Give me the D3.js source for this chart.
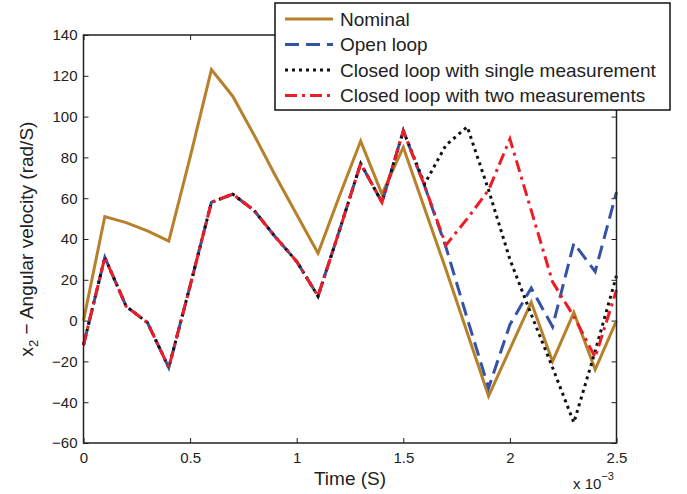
<!DOCTYPE html>
<html>
<head>
<meta charset="utf-8">
<script src="https://cdn.jsdelivr.net/npm/d3@7"></script>
<style>
  body { margin: 0; background: #fff; }
  svg { font-family: "Liberation Sans", Arial, sans-serif; }
</style>
</head>
<body>
<svg id="chart" width="687" height="494"></svg>
<script>
// time in units of 1e-3 s
const time = [0, 0.1, 0.2, 0.3, 0.4, 0.5, 0.6, 0.7, 0.8, 0.9, 1.0, 1.1, 1.2,
              1.3, 1.4, 1.5, 1.6, 1.7, 1.8, 1.9, 2.0, 2.1, 2.2, 2.3, 2.4, 2.5];

const nominal    = [0, 51, 48, 44, 39, 80, 123, 110, 91, 71, 52, 33, 61,
                    88, 62, 85, 55, 25, -6, -37, -14, 9, -20, 4, -24, 0];
const openLoop   = [-12, 31, 7, -1, -23, 17, 58, 62, 54, 41, 29, 12, 44,
                    77, 58, 93, 66, 36, 1, -33, -2, 16, -3, 38, 24, 63];
const closedOne  = [-12, 31, 7, -1, -23, 17, 58, 62, 54, 41, 29, 12, 44,
                    77, 58, 93, 67, 86, 95, 64, 30, 3, -23, -50, -15, 22];
const closedTwo  = [-12, 31, 7, -1, -23, 17, 58, 62, 54, 41, 29, 12, 44,
                    77, 58, 93, 66, 37, 50, 64, 89, 54, 19, 2, -18, 15];

const seriesNames = ["Nominal", "Open loop", "Closed loop with single measurement", "Closed loop with two measurements"];
const xTicks = [0, 0.5, 1, 1.5, 2, 2.5];
const yTicks = [-60, -40, -20, 0, 20, 40, 60, 80, 100, 120, 140];

const styles = [
  { color: "#b7812c", dash: null },
  { color: "#3553a6", dash: "14,7" },
  { color: "#111111", dash: "3,4" },
  { color: "#ee1c25", dash: "12,5,3,5" }
];
const allSeries = [nominal, openLoop, closedOne, closedTwo];

const svg = d3.select("#chart");
const mLeft = 83.5, mRight = 616.5, mTop = 35, mBottom = 443;

const x = d3.scaleLinear().domain([0, 2.5]).range([mLeft, mRight]);
const y = d3.scaleLinear().domain([-60, 140]).range([mBottom, mTop]);

const fmt = d => String(d).replace("-", "\u2212");

// axes, ticks pointing inward
svg.append("g")
  .attr("transform", `translate(0,${mBottom})`)
  .call(d3.axisBottom(x).tickValues(xTicks).tickFormat(fmt).tickSizeInner(-5).tickSizeOuter(0).tickPadding(9))
  .call(g => g.select(".domain").remove());

svg.append("g")
  .attr("transform", `translate(${mLeft},0)`)
  .call(d3.axisLeft(y).tickValues(yTicks).tickFormat(fmt).tickSizeInner(-5).tickSizeOuter(0).tickPadding(6))
  .call(g => g.select(".domain").remove());

svg.append("g")
  .attr("transform", `translate(0,${mTop})`)
  .call(d3.axisTop(x).tickValues(xTicks).tickFormat("").tickSizeInner(-5).tickSizeOuter(0))
  .call(g => g.select(".domain").remove());

svg.append("g")
  .attr("transform", `translate(${mRight},0)`)
  .call(d3.axisRight(y).tickValues(yTicks).tickFormat("").tickSizeInner(-5).tickSizeOuter(0))
  .call(g => g.select(".domain").remove());

svg.selectAll(".tick text").attr("font-size", 15).attr("fill", "#222").attr("font-family", null);
svg.selectAll(".tick line").attr("stroke", "#222").attr("stroke-width", 1);

// lines
const line = d3.line().x((d, i) => x(time[i])).y(d => y(d));

allSeries.forEach((s, k) => {
  svg.append("path")
    .datum(s)
    .attr("d", line)
    .attr("fill", "none")
    .attr("stroke", styles[k].color)
    .attr("stroke-width", 3)
    .attr("stroke-dasharray", styles[k].dash)
    .attr("stroke-linejoin", "miter");
});

// frame
svg.append("rect")
  .attr("x", mLeft).attr("y", mTop)
  .attr("width", mRight - mLeft).attr("height", mBottom - mTop)
  .attr("fill", "none").attr("stroke", "#222").attr("stroke-width", 1.5);

// axis labels
svg.append("text")
  .attr("x", (mLeft + mRight) / 2).attr("y", 485)
  .attr("text-anchor", "middle").attr("font-size", 19).attr("fill", "#222")
  .text("Time (S)");

const yl = svg.append("text")
  .attr("transform", `translate(33,${(mTop + mBottom) / 2}) rotate(-90)`)
  .attr("text-anchor", "middle").attr("font-size", 19).attr("fill", "#222");
yl.append("tspan").text("x");
yl.append("tspan").attr("font-size", 13).attr("dy", 5).text("2");
yl.append("tspan").attr("dy", -5).text(" \u2212 Angular velocity (rad/S)");

const ex = svg.append("text")
  .attr("x", 573).attr("y", 489).attr("font-size", 15).attr("fill", "#222");
ex.append("tspan").text("x 10");
ex.append("tspan").attr("font-size", 11).attr("dy", -9).text("\u22123");

// legend
const lg = svg.append("g");
lg.append("rect")
  .attr("x", 275).attr("y", 3).attr("width", 395).attr("height", 107)
  .attr("fill", "#fff").attr("stroke", "#111").attr("stroke-width", 1.5);

seriesNames.forEach((name, k) => {
  const cy = 19 + k * 25.5;
  lg.append("line")
    .attr("x1", 285).attr("x2", 333).attr("y1", cy).attr("y2", cy)
    .attr("stroke", styles[k].color).attr("stroke-width", 3)
    .attr("stroke-dasharray", styles[k].dash);
  lg.append("text")
    .attr("x", 340).attr("y", cy).attr("dy", "0.36em")
    .attr("font-size", 19).attr("fill", "#222")
    .text(name);
});
</script>
</body>
</html>
